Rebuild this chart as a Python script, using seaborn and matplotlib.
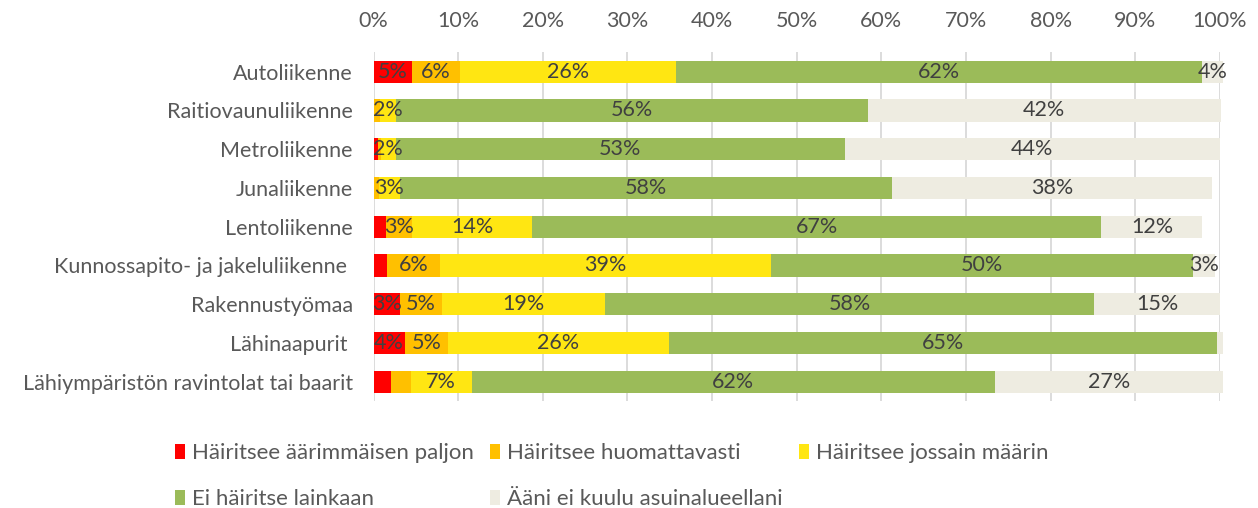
import pandas as pd
import seaborn as sns
import matplotlib.pyplot as plt
from matplotlib.patches import Patch

# categories (top to bottom)
categories = ["Autoliikenne", "Raitiovaunuliikenne", "Metroliikenne", "Junaliikenne",
              "Lentoliikenne", "Kunnossapito- ja jakeluliikenne ", "Rakennustyömaa",
              "Lähinaapurit ", "Lähiympäristön ravintolat tai baarit"]

series_names = ["Häiritsee äärimmäisen paljon", "Häiritsee huomattavasti",
                "Häiritsee jossain määrin", "Ei häiritse lainkaan",
                "Ääni ei kuulu asuinalueellani"]

# segment widths in %
red = [4.5, 0.0, 0.5, 0.0, 1.5, 1.6, 3.1, 3.7, 2.1]
orange = [5.7, 0.8, 0.35, 0.6, 3.1, 6.2, 5.0, 5.1, 2.3]
yellow = [25.5, 1.9, 1.8, 2.5, 14.1, 39.2, 19.3, 26.1, 7.2]
green = [62.2, 55.7, 53.0, 58.2, 67.3, 49.8, 57.7, 64.7, 61.8]
grey = [2.4, 41.7, 44.3, 37.7, 11.9, 2.6, 14.9, 0.7, 26.9]

# data labels as printed on the chart (None = not shown)
red_lbl = ["5%", None, None, None, None, None, "3%", "4%", None]
orange_lbl = ["6%", None, None, None, "3%", "6%", "5%", "5%", None]
yellow_lbl = ["26%", "2%", "2%", "3%", "14%", "39%", "19%", "26%", "7%"]
green_lbl = ["62%", "56%", "53%", "58%", "67%", "50%", "58%", "65%", "62%"]
grey_lbl = ["4%", "42%", "44%", "38%", "12%", "3%", "15%", None, "27%"]

colors = ["#FF0000", "#FFC000", "#FFE612", "#9BBB59", "#EEECE1"]

sns.set_style("white")
plt.rcParams['font.family'] = ['Lato', 'DejaVu Sans']

df = pd.DataFrame({"cat": categories, "red": red, "orange": orange,
                   "yellow": yellow, "green": green, "grey": grey})
cols = ["red", "orange", "yellow", "green", "grey"]
cum = df[cols].cumsum(axis=1)

fig = plt.figure(figsize=(12.58, 5.08), dpi=100)
ax = fig.add_axes([0.2969, 0.2104, 0.6729, 0.6866])

# stacked bars: draw cumulative totals from the longest down
for col, c in reversed(list(zip(cols, colors))):
    sns.barplot(x=cum[col], y=df["cat"], color=c, saturation=1, width=0.57,
                orient="h", ax=ax, linewidth=0)
for p in ax.patches:
    p.set_clip_on(False)

labels = [red_lbl, orange_lbl, yellow_lbl, green_lbl, grey_lbl]
for j, col in enumerate(cols):
    left = cum[col] - df[col]
    for i in range(len(categories)):
        t = labels[j][i]
        if t:
            ax.text(left[i] + df[col][i] / 2, i, t, ha="center", va="center",
                    fontsize=15.5, color="#404040")

ax.set_xlim(0, 100)
ax.set_xticks(range(0, 101, 10))
ax.set_xticklabels([f"{v}%" for v in range(0, 101, 10)])
ax.xaxis.tick_top()
ax.tick_params(axis="x", length=0, pad=15, labelsize=15.5, labelcolor="#595959")
ax.tick_params(axis="y", length=0, pad=15, labelsize=15.5, labelcolor="#595959")
ax.set_xlabel("")
ax.set_ylabel("")
ax.xaxis.grid(True, color="#D9D9D9", linewidth=1.3)
ax.set_axisbelow(True)
sns.despine(ax=ax, left=True, bottom=True, top=True, right=True)

# legend fills column-wise, reorder so rows read like the original
order = [0, 3, 1, 4, 2]
handles = [Patch(facecolor=colors[k], edgecolor="none") for k in order]
fig.legend(handles, [series_names[k] for k in order], ncol=3, loc="upper left",
           bbox_to_anchor=(0.139, 0.127), frameon=False, fontsize=16,
           labelcolor="#595959", handlelength=0.45, handleheight=0.65,
           handletextpad=0.3, columnspacing=0.75, labelspacing=1.15,
           borderpad=0, borderaxespad=0)

fig.savefig("out.png", dpi=100)
